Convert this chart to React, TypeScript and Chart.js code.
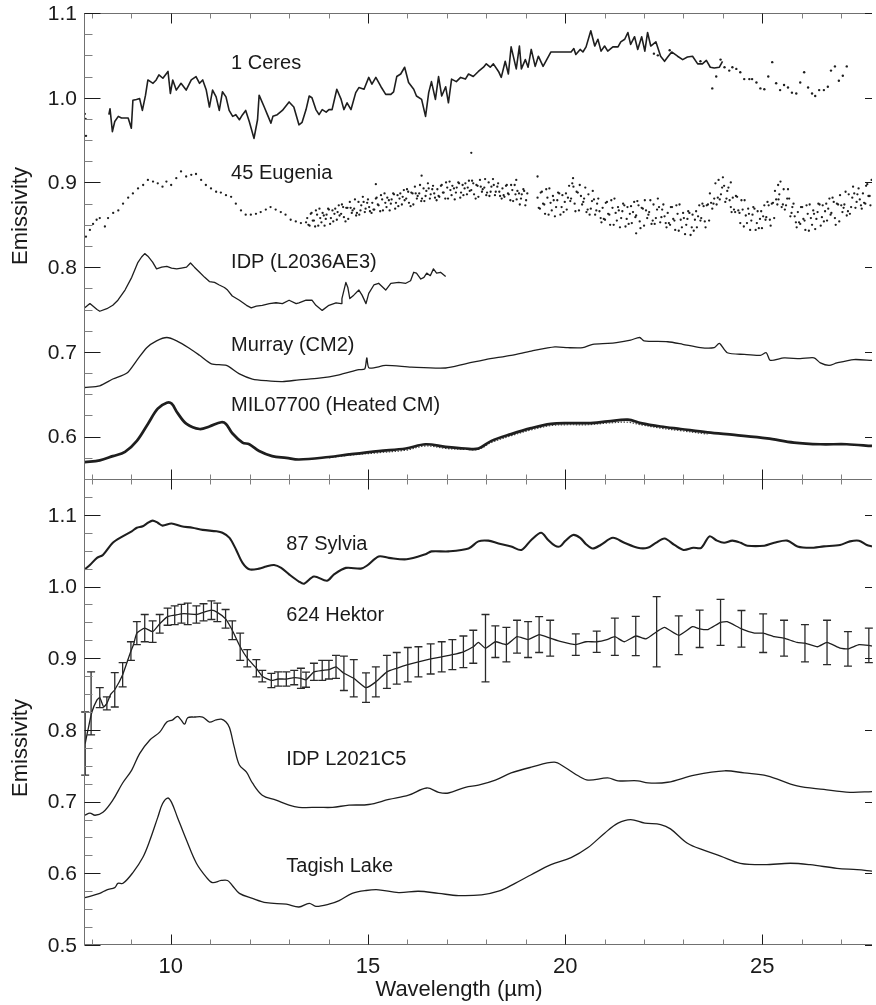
import { useEffect, useRef } from "react";
import { Chart, registerables } from "chart.js";

Chart.register(...registerables);

type P = [number, number];

// ---- axis ticks ----
const xMajorTicks = [10, 15, 20, 25];
const xMinorTicks = [8, 9, 11, 12, 13, 14, 16, 17, 18, 19, 21, 22, 23, 24, 26, 27];
const topYTicks = [0.6, 0.7, 0.8, 0.9, 1.0, 1.1];
const botYTicks = [0.5, 0.6, 0.7, 0.8, 0.9, 1.0, 1.1];

// ---- top panel ----
const ceresLine: P[] = [
  [8.43, 0.98], [8.46, 0.987], [8.52, 0.96], [8.58, 0.972], [8.67, 0.978], [8.75, 0.976], [8.92, 0.976], [9.0, 0.964],
  [9.04, 0.997], [9.13, 0.998], [9.21, 0.999], [9.28, 0.985], [9.36, 1.003], [9.42, 1.021], [9.55, 1.017], [9.63, 1.021],
  [9.7, 1.027], [9.8, 1.023], [9.93, 1.031], [9.99, 1.005], [10.05, 1.021], [10.14, 1.009], [10.26, 1.017], [10.39, 1.009],
  [10.52, 1.021], [10.64, 1.025], [10.73, 1.017], [10.81, 1.021], [10.9, 1.009], [10.98, 0.989], [11.06, 1.009], [11.15, 1.001],
  [11.23, 0.985], [11.31, 1.007], [11.4, 1.001], [11.48, 0.985], [11.57, 0.978], [11.65, 0.98], [11.74, 0.974], [11.82, 0.98],
  [11.9, 0.985], [11.99, 0.972], [12.11, 0.952], [12.2, 0.974], [12.24, 1.003], [12.37, 0.989], [12.45, 0.98], [12.54, 0.97],
  [12.59, 0.978], [12.7, 0.98], [12.83, 0.985], [13.0, 0.995], [13.12, 0.989], [13.25, 0.968], [13.33, 0.971], [13.43, 0.986],
  [13.51, 1.002], [13.58, 1.0], [13.68, 0.986], [13.76, 0.98], [13.84, 0.986], [13.94, 0.983], [14.01, 0.986], [14.09, 0.986],
  [14.21, 1.01], [14.32, 0.998], [14.39, 0.986], [14.47, 0.994], [14.57, 0.986], [14.69, 1.006], [14.77, 1.012], [14.9, 1.01],
  [15.02, 1.024], [15.1, 1.016], [15.2, 1.024], [15.33, 1.013], [15.45, 1.004], [15.58, 1.004], [15.65, 1.007], [15.73, 1.025],
  [15.83, 1.028], [15.93, 1.036], [16.03, 1.018], [16.16, 1.01], [16.23, 1.002], [16.36, 0.998], [16.46, 0.978], [16.54, 1.006],
  [16.61, 1.019], [16.71, 0.998], [16.79, 1.025], [16.87, 1.002], [16.97, 1.013], [17.04, 0.994], [17.12, 1.022], [17.24, 1.019],
  [17.35, 1.024], [17.47, 1.022], [17.55, 1.028], [17.67, 1.025], [17.8, 1.031], [17.93, 1.036], [18.0, 1.04], [18.1, 1.036],
  [18.18, 1.04], [18.31, 1.031], [18.38, 1.024], [18.48, 1.043], [18.56, 1.028], [18.63, 1.06], [18.76, 1.034], [18.84, 1.061],
  [18.89, 1.034], [18.99, 1.045], [19.06, 1.036], [19.14, 1.057], [19.24, 1.037], [19.32, 1.049], [19.44, 1.037], [19.64, 1.054],
  [20.15, 1.054], [20.22, 1.058], [20.27, 1.051], [20.38, 1.057], [20.45, 1.054], [20.53, 1.06], [20.65, 1.079], [20.75, 1.061],
  [20.83, 1.069], [20.91, 1.055], [21.0, 1.061], [21.08, 1.055], [21.21, 1.06], [21.34, 1.06], [21.41, 1.066], [21.51, 1.069],
  [21.59, 1.077], [21.66, 1.063], [21.76, 1.072], [21.84, 1.057], [21.94, 1.072], [22.02, 1.055], [22.09, 1.077], [22.17, 1.061],
  [22.3, 1.066], [22.42, 1.049], [22.52, 1.043], [22.6, 1.048], [22.7, 1.054], [22.85, 1.049], [22.98, 1.045], [23.1, 1.048],
  [23.23, 1.049], [23.36, 1.04], [23.48, 1.04], [23.58, 1.044], [23.68, 1.036], [23.78, 1.035], [23.91, 1.036], [23.99, 1.043],
];

const ceresDots: P[] = [
  [7.82, 0.981], [7.84, 0.975], [7.85, 0.955],
  [22.25, 1.052], [22.35, 1.05], [22.65, 1.056], [23.43, 1.043], [23.73, 1.011], [23.83, 1.025], [23.94, 1.045],
  [24.04, 1.036], [24.16, 1.032], [24.24, 1.036], [24.34, 1.034], [24.44, 1.03], [24.54, 1.022], [24.67, 1.022],
  [24.74, 1.022], [24.85, 1.018], [24.95, 1.011], [25.05, 1.01], [25.15, 1.025], [25.25, 1.042], [25.35, 1.017],
  [25.45, 1.009], [25.55, 1.015], [25.65, 1.012], [25.75, 1.006], [25.86, 1.005], [25.96, 1.018], [26.06, 1.03],
  [26.16, 1.012], [26.26, 1.005], [26.34, 1.002], [26.44, 1.009], [26.56, 1.009], [26.66, 1.013], [26.74, 1.032],
  [26.84, 1.037], [26.94, 1.02], [27.04, 1.026], [27.14, 1.037],
];

const eugeniaDots: P[] = [
  [7.85, 0.836], [7.95, 0.844], [8.03, 0.851], [8.12, 0.856], [8.2, 0.858], [8.33, 0.848], [8.41, 0.858], [8.54, 0.864],
  [8.67, 0.867], [8.79, 0.875], [8.92, 0.882], [9.04, 0.887], [9.17, 0.893], [9.3, 0.897], [9.42, 0.903], [9.55, 0.901],
  [9.67, 0.899], [9.79, 0.895], [9.89, 0.901], [10.01, 0.897], [10.14, 0.905], [10.26, 0.913], [10.39, 0.907], [10.52, 0.909],
  [10.64, 0.91], [10.77, 0.903], [10.89, 0.897], [11.02, 0.893], [11.15, 0.889], [11.27, 0.888], [11.4, 0.885], [11.53, 0.883],
  [11.65, 0.875], [11.78, 0.867], [11.9, 0.862], [12.03, 0.862], [12.16, 0.863], [12.28, 0.865], [12.41, 0.868], [12.53, 0.871],
  [12.66, 0.868], [12.79, 0.865], [12.91, 0.862], [13.04, 0.856], [13.17, 0.854], [13.3, 0.852], [13.43, 0.853],
  [13.46, 0.858], [13.52, 0.849], [13.57, 0.864], [13.63, 0.855], [13.68, 0.867], [13.74, 0.849], [13.79, 0.858], [13.85, 0.864],
  [13.9, 0.849], [13.95, 0.862], [14.01, 0.868], [14.06, 0.858], [14.12, 0.854], [14.17, 0.869], [14.23, 0.865], [14.28, 0.861],
  [14.34, 0.874], [14.39, 0.859], [14.45, 0.87], [14.5, 0.857], [14.56, 0.87], [14.61, 0.867], [14.67, 0.88], [14.72, 0.864],
  [14.78, 0.862], [14.83, 0.873], [14.89, 0.877], [14.94, 0.869], [15.0, 0.88], [15.05, 0.866], [15.11, 0.876], [15.16, 0.868],
  [15.22, 0.882], [15.27, 0.873], [15.33, 0.885], [15.38, 0.867], [15.44, 0.876], [15.49, 0.882], [15.55, 0.867], [15.6, 0.88],
  [15.66, 0.886], [15.71, 0.876], [15.77, 0.872], [15.82, 0.887], [15.88, 0.883], [15.93, 0.879], [15.99, 0.892], [16.04, 0.876],
  [16.1, 0.888], [16.15, 0.874], [16.21, 0.887], [16.26, 0.884], [16.32, 0.897], [16.37, 0.881], [16.43, 0.878], [16.48, 0.89],
  [16.54, 0.893], [16.59, 0.886], [16.65, 0.896], [16.7, 0.882], [16.76, 0.892], [16.81, 0.883], [16.87, 0.897], [16.92, 0.888],
  [16.98, 0.9], [17.03, 0.881], [17.09, 0.891], [17.14, 0.896], [17.2, 0.88], [17.25, 0.894], [17.31, 0.899], [17.36, 0.888],
  [17.42, 0.885], [17.47, 0.899], [17.53, 0.894], [17.58, 0.89], [17.64, 0.902], [17.69, 0.886], [17.75, 0.897], [17.8, 0.883],
  [17.86, 0.895], [17.91, 0.892], [17.97, 0.904], [18.02, 0.888], [18.08, 0.884], [18.13, 0.895], [18.19, 0.897], [18.24, 0.889],
  [18.3, 0.899], [18.35, 0.884], [18.41, 0.893], [18.46, 0.883], [18.52, 0.897], [18.57, 0.886], [18.63, 0.897], [18.68, 0.878],
  [18.74, 0.886], [18.79, 0.89], [18.85, 0.874], [18.9, 0.886], [18.96, 0.89], [19.01, 0.879],
  [19.3, 0.882], [19.36, 0.869], [19.41, 0.889], [19.47, 0.874], [19.52, 0.892], [19.58, 0.862], [19.63, 0.876], [19.69, 0.884],
  [19.74, 0.86], [19.8, 0.879], [19.85, 0.887], [19.91, 0.871], [19.96, 0.865], [20.02, 0.887], [20.07, 0.882], [20.13, 0.878],
  [20.18, 0.899], [20.24, 0.875], [20.29, 0.889], [20.35, 0.867], [20.4, 0.884], [20.46, 0.877], [20.51, 0.894], [20.57, 0.868],
  [20.62, 0.862], [20.68, 0.878], [20.73, 0.88], [20.79, 0.867], [20.84, 0.881], [20.9, 0.858], [20.95, 0.87], [21.01, 0.856],
  [21.06, 0.877], [21.12, 0.862], [21.17, 0.879], [21.23, 0.85], [21.28, 0.864], [21.34, 0.871], [21.39, 0.847], [21.45, 0.866],
  [21.5, 0.873], [21.56, 0.857], [21.61, 0.851], [21.67, 0.872], [21.72, 0.865], [21.78, 0.859], [21.83, 0.878], [21.89, 0.854],
  [21.94, 0.87], [22.0, 0.849], [22.05, 0.867], [22.11, 0.862], [22.16, 0.879], [22.22, 0.855], [22.27, 0.851], [22.33, 0.868],
  [22.38, 0.871], [22.44, 0.859], [22.49, 0.874], [22.55, 0.852], [22.6, 0.864], [22.66, 0.85], [22.71, 0.871], [22.77, 0.855],
  [22.82, 0.873], [22.88, 0.843], [22.93, 0.856], [22.99, 0.864], [23.04, 0.839], [23.1, 0.857], [23.15, 0.864], [23.21, 0.847],
  [23.26, 0.843], [23.32, 0.866], [23.37, 0.86], [23.43, 0.855], [23.48, 0.875], [23.54, 0.854], [23.59, 0.873], [23.65, 0.855],
  [23.7, 0.876], [23.76, 0.875], [23.81, 0.899], [23.87, 0.882], [23.92, 0.88], [23.98, 0.894], [24.03, 0.896], [24.09, 0.881],
  [24.14, 0.894], [24.2, 0.871], [24.25, 0.882], [24.31, 0.865], [24.36, 0.883], [24.42, 0.864], [24.47, 0.879], [24.53, 0.848],
  [24.58, 0.861], [24.64, 0.869], [24.69, 0.844], [24.75, 0.862], [24.8, 0.869], [24.86, 0.852], [24.91, 0.846], [24.97, 0.866],
  [25.02, 0.86], [25.08, 0.856], [25.13, 0.877], [25.19, 0.856], [25.24, 0.875], [25.3, 0.858], [25.35, 0.88], [25.41, 0.88],
  [25.46, 0.901], [25.52, 0.874], [25.57, 0.868], [25.63, 0.881], [25.68, 0.881], [25.74, 0.864], [25.79, 0.875], [25.85, 0.853],
  [25.9, 0.865], [25.96, 0.851], [26.01, 0.871], [26.07, 0.855], [26.12, 0.873], [26.18, 0.843], [26.23, 0.858], [26.29, 0.867],
  [26.34, 0.845], [26.4, 0.865], [26.45, 0.874], [26.51, 0.859], [26.56, 0.854], [26.62, 0.875], [26.67, 0.869], [26.73, 0.862],
  [26.78, 0.882], [26.84, 0.858], [26.89, 0.875], [26.95, 0.854], [27.0, 0.873], [27.06, 0.87], [27.11, 0.889], [27.17, 0.866],
  [27.22, 0.863], [27.28, 0.882], [27.33, 0.887], [27.39, 0.877], [27.44, 0.893], [27.5, 0.873], [27.55, 0.887], [27.61, 0.875],
  [27.66, 0.898], [27.72, 0.884], [27.77, 0.903],
  [17.62, 0.935], [16.36, 0.908], [15.2, 0.898], [18.76, 0.903], [19.3, 0.907], [20.2, 0.905], [24.2, 0.9], [21.8, 0.84], [25.4, 0.897],
];

// second overlapping Eugenia spectrum (dense part)
const eugeniaDotsB: P[] = [
  [13.49, 0.85], [13.55, 0.863], [13.6, 0.855], [13.66, 0.848], [13.71, 0.862], [13.77, 0.869], [13.82, 0.853], [13.88, 0.861],
  [13.93, 0.857], [13.99, 0.869], [14.04, 0.851], [14.1, 0.867], [14.15, 0.863], [14.21, 0.856], [14.26, 0.873], [14.32, 0.863],
  [14.37, 0.871], [14.43, 0.854], [14.48, 0.87], [14.54, 0.877], [14.59, 0.864], [14.65, 0.869], [14.7, 0.861], [14.76, 0.877],
  [14.81, 0.867], [14.87, 0.883], [14.92, 0.865], [14.98, 0.876], [15.03, 0.871], [15.09, 0.864], [15.14, 0.868], [15.2, 0.881],
  [15.25, 0.874], [15.31, 0.866], [15.36, 0.88], [15.42, 0.887], [15.47, 0.871], [15.53, 0.879], [15.58, 0.875], [15.64, 0.887],
  [15.69, 0.869], [15.75, 0.885], [15.8, 0.881], [15.86, 0.874], [15.91, 0.891], [15.97, 0.881], [16.02, 0.889], [16.08, 0.872],
  [16.13, 0.887], [16.19, 0.895], [16.24, 0.881], [16.3, 0.887], [16.35, 0.878], [16.41, 0.893], [16.46, 0.884], [16.52, 0.899],
  [16.57, 0.881], [16.63, 0.892], [16.68, 0.887], [16.74, 0.879], [16.79, 0.884], [16.85, 0.896], [16.9, 0.888], [16.96, 0.881],
  [17.01, 0.894], [17.07, 0.901], [17.12, 0.885], [17.18, 0.893], [17.23, 0.888], [17.29, 0.9], [17.34, 0.882], [17.4, 0.897],
  [17.45, 0.893], [17.51, 0.886], [17.56, 0.902], [17.62, 0.891], [17.67, 0.899], [17.73, 0.881], [17.78, 0.896], [17.84, 0.903],
  [17.89, 0.889], [17.95, 0.894], [18.0, 0.885], [18.06, 0.9], [18.11, 0.889], [18.17, 0.904], [18.22, 0.885], [18.28, 0.895],
  [18.33, 0.889], [18.39, 0.881], [18.44, 0.885], [18.5, 0.896], [18.55, 0.887], [18.61, 0.879], [18.66, 0.891], [18.72, 0.897],
  [18.77, 0.88], [18.83, 0.887], [18.88, 0.881], [18.94, 0.892], [18.99, 0.873], [19.04, 0.887],
  [19.33, 0.87], [19.38, 0.888], [19.44, 0.875], [19.49, 0.863], [19.55, 0.882], [19.6, 0.893], [19.66, 0.867], [19.71, 0.879],
  [19.77, 0.871], [19.82, 0.888], [19.88, 0.862], [19.93, 0.885], [19.99, 0.877], [20.04, 0.868], [20.1, 0.896], [20.15, 0.881],
  [20.21, 0.895], [20.26, 0.866], [20.32, 0.888], [20.37, 0.897], [20.43, 0.874], [20.48, 0.881], [20.54, 0.865], [20.59, 0.886],
  [20.65, 0.869], [20.7, 0.89], [20.76, 0.862], [20.81, 0.875], [20.87, 0.866], [20.92, 0.853], [20.98, 0.857], [21.03, 0.876],
  [21.09, 0.863], [21.14, 0.85], [21.2, 0.87], [21.25, 0.881], [21.31, 0.855], [21.36, 0.867], [21.42, 0.858], [21.47, 0.875],
  [21.53, 0.848], [21.58, 0.871], [21.64, 0.863], [21.69, 0.852], [21.75, 0.877], [21.8, 0.861], [21.86, 0.873], [21.91, 0.846],
  [21.97, 0.869], [22.02, 0.879], [22.08, 0.858], [22.13, 0.865], [22.19, 0.851], [22.24, 0.874], [22.3, 0.858], [22.35, 0.881],
  [22.41, 0.853], [22.46, 0.868], [22.52, 0.86], [22.57, 0.847], [22.63, 0.852], [22.68, 0.871], [22.74, 0.857], [22.79, 0.844],
  [22.85, 0.863], [22.9, 0.874], [22.96, 0.847], [23.01, 0.858], [23.07, 0.85], [23.12, 0.866], [23.18, 0.838], [23.23, 0.862],
  [23.29, 0.856], [23.34, 0.847], [23.4, 0.873], [23.45, 0.858], [23.51, 0.872], [23.56, 0.847], [23.62, 0.874], [23.67, 0.887],
  [23.73, 0.869], [23.78, 0.881], [23.84, 0.874], [23.89, 0.903], [23.95, 0.886], [24.0, 0.906], [24.06, 0.877], [24.11, 0.89],
  [24.17, 0.879], [24.22, 0.865], [24.28, 0.868], [24.33, 0.884], [24.39, 0.867], [24.44, 0.852], [24.5, 0.868], [24.55, 0.879],
  [24.61, 0.852], [24.66, 0.863], [24.72, 0.855], [24.77, 0.871], [24.83, 0.844], [24.88, 0.866], [24.94, 0.857], [24.99, 0.846],
  [25.05, 0.873], [25.1, 0.859], [25.16, 0.873], [25.21, 0.849], [25.27, 0.876], [25.32, 0.89], [25.38, 0.874], [25.43, 0.886],
  [25.49, 0.871], [25.54, 0.892], [25.6, 0.873], [25.65, 0.892], [25.71, 0.86], [25.76, 0.871], [25.82, 0.86], [25.87, 0.847],
  [25.93, 0.853], [25.98, 0.871], [26.04, 0.857], [26.09, 0.844], [26.15, 0.863], [26.2, 0.874], [26.26, 0.85], [26.31, 0.863],
  [26.37, 0.857], [26.42, 0.875], [26.48, 0.849], [26.53, 0.873], [26.59, 0.866], [26.64, 0.855], [26.7, 0.881], [26.75, 0.864],
  [26.81, 0.877], [26.86, 0.85], [26.92, 0.874], [26.97, 0.885], [27.03, 0.865], [27.08, 0.874], [27.14, 0.861], [27.19, 0.886],
  [27.25, 0.871], [27.3, 0.895], [27.36, 0.87], [27.41, 0.886], [27.47, 0.88], [27.52, 0.869], [27.58, 0.876], [27.63, 0.896],
  [27.69, 0.884], [27.74, 0.873],
];

const idpL2036: P[] = [
  [7.82, 0.752], [7.95, 0.757], [8.13, 0.75], [8.2, 0.748], [8.38, 0.751], [8.53, 0.755], [8.66, 0.761], [8.84, 0.773],
  [9.01, 0.788], [9.16, 0.805], [9.26, 0.812], [9.34, 0.816], [9.42, 0.813], [9.54, 0.806], [9.64, 0.798], [9.77, 0.8],
  [9.9, 0.801], [10.02, 0.799], [10.15, 0.798], [10.27, 0.799], [10.4, 0.8], [10.5, 0.805], [10.6, 0.8], [10.73, 0.794],
  [10.86, 0.788], [10.98, 0.783], [11.11, 0.782], [11.23, 0.779], [11.36, 0.776], [11.44, 0.773], [11.56, 0.766], [11.74, 0.761],
  [11.92, 0.755], [12.04, 0.752], [12.17, 0.754], [12.32, 0.755], [12.5, 0.757], [12.67, 0.758], [12.83, 0.757], [13.0, 0.761],
  [13.18, 0.757], [13.25, 0.758], [13.43, 0.761], [13.58, 0.761], [13.68, 0.755], [13.84, 0.749], [14.01, 0.755], [14.19, 0.758],
  [14.32, 0.757], [14.34, 0.763], [14.44, 0.782], [14.49, 0.776], [14.54, 0.763], [14.64, 0.767], [14.77, 0.773], [14.85, 0.767],
  [14.95, 0.757], [15.02, 0.769], [15.15, 0.779], [15.27, 0.781], [15.45, 0.773], [15.58, 0.781], [15.78, 0.782], [15.96, 0.781],
  [16.08, 0.784], [16.16, 0.794], [16.23, 0.793], [16.34, 0.786], [16.42, 0.788], [16.49, 0.793], [16.58, 0.79], [16.66, 0.798],
  [16.74, 0.793], [16.84, 0.794], [16.97, 0.789],
];

const murray: P[] = [
  [7.82, 0.658], [8.2, 0.66], [8.53, 0.668], [8.89, 0.675], [9.14, 0.69], [9.39, 0.705], [9.64, 0.713], [9.9, 0.717],
  [10.15, 0.713], [10.48, 0.704], [10.73, 0.696], [11.03, 0.686], [11.41, 0.684], [11.74, 0.674], [12.07, 0.668], [12.42, 0.666],
  [12.83, 0.665], [13.25, 0.667], [13.76, 0.669], [14.27, 0.673], [14.77, 0.679], [14.92, 0.68], [14.97, 0.693], [15.03, 0.681],
  [15.45, 0.684], [16.1, 0.682], [16.97, 0.681], [17.47, 0.686], [17.98, 0.691], [18.63, 0.696], [19.14, 0.701], [19.74, 0.706],
  [20.07, 0.705], [20.45, 0.705], [20.7, 0.709], [21.08, 0.71], [21.3, 0.711], [21.66, 0.714], [21.89, 0.717], [22.0, 0.713],
  [22.6, 0.712], [22.98, 0.709], [23.43, 0.705], [23.78, 0.705], [23.91, 0.71], [24.11, 0.699], [24.54, 0.697], [24.95, 0.696],
  [25.1, 0.699], [25.2, 0.69], [25.55, 0.693], [25.96, 0.692], [26.31, 0.693], [26.47, 0.687], [26.69, 0.684], [26.89, 0.687],
  [27.32, 0.691], [27.78, 0.69],
];

const mil07700: P[] = [
  [7.82, 0.57], [8.2, 0.572], [8.53, 0.577], [8.84, 0.582], [9.14, 0.595], [9.42, 0.615], [9.67, 0.633], [9.9, 0.64],
  [10.02, 0.639], [10.17, 0.628], [10.4, 0.615], [10.73, 0.609], [10.98, 0.612], [11.28, 0.617], [11.4, 0.615], [11.56, 0.604],
  [11.82, 0.593], [11.99, 0.591], [12.24, 0.583], [12.57, 0.577], [12.93, 0.575], [13.25, 0.573], [14.01, 0.576], [14.52, 0.579],
  [15.27, 0.583], [15.96, 0.586], [16.46, 0.591], [16.97, 0.588], [17.47, 0.586], [17.8, 0.586], [18.13, 0.595], [18.63, 0.603],
  [19.14, 0.61], [19.64, 0.615], [20.07, 0.616], [20.58, 0.616], [21.08, 0.618], [21.59, 0.62], [21.92, 0.616], [22.42, 0.612],
  [22.93, 0.609], [23.61, 0.605], [24.29, 0.602], [25.12, 0.598], [25.8, 0.593], [26.47, 0.591], [27.14, 0.591], [27.78, 0.589],
];

const mil07700Dotted: P[] = [
  [14.01, 0.575], [14.52, 0.578], [15.27, 0.581], [15.96, 0.584], [16.46, 0.589], [16.97, 0.586], [17.47, 0.585],
  [17.8, 0.585], [18.13, 0.593], [18.63, 0.601], [19.14, 0.608], [19.64, 0.613], [20.07, 0.614], [20.58, 0.614],
  [21.08, 0.616], [21.59, 0.617], [21.92, 0.614], [22.42, 0.61], [22.93, 0.607], [23.61, 0.603],
];

// ---- bottom panel ----
const sylvia: P[] = [
  [7.82, 1.024], [7.95, 1.03], [8.13, 1.04], [8.28, 1.044], [8.53, 1.061], [8.78, 1.07], [9.01, 1.077], [9.14, 1.082],
  [9.29, 1.084], [9.42, 1.089], [9.54, 1.092], [9.67, 1.089], [9.79, 1.085], [10.02, 1.088], [10.27, 1.084], [10.55, 1.082],
  [10.81, 1.079], [11.16, 1.077], [11.31, 1.075], [11.49, 1.068], [11.66, 1.051], [11.82, 1.033], [11.99, 1.024], [12.24, 1.025],
  [12.42, 1.028], [12.62, 1.03], [12.8, 1.026], [13.0, 1.017], [13.25, 1.007], [13.38, 1.004], [13.63, 1.014], [13.96, 1.008],
  [14.14, 1.017], [14.44, 1.026], [14.82, 1.025], [14.97, 1.029], [15.27, 1.042], [15.53, 1.04], [15.98, 1.038], [16.46, 1.045],
  [16.61, 1.049], [17.04, 1.049], [17.55, 1.053], [17.8, 1.063], [18.05, 1.064], [18.31, 1.06], [18.63, 1.056], [18.89, 1.051],
  [19.14, 1.065], [19.39, 1.075], [19.57, 1.065], [19.74, 1.057], [19.87, 1.056], [19.99, 1.063], [20.2, 1.072], [20.38, 1.068],
  [20.53, 1.059], [20.7, 1.053], [20.9, 1.058], [21.21, 1.068], [21.5, 1.061], [21.84, 1.054], [22.09, 1.054], [22.3, 1.061],
  [22.52, 1.067], [22.77, 1.058], [23.0, 1.051], [23.25, 1.054], [23.45, 1.054], [23.66, 1.07], [23.85, 1.064], [24.03, 1.061],
  [24.24, 1.064], [24.45, 1.061], [24.62, 1.057], [25.05, 1.057], [25.3, 1.061], [25.63, 1.064], [25.89, 1.056], [26.21, 1.054],
  [26.56, 1.056], [26.97, 1.058], [27.22, 1.063], [27.45, 1.064], [27.65, 1.058], [27.78, 1.056],
];

const hektor: P[] = [
  [7.83, 0.781], [7.9, 0.8], [8.0, 0.825], [8.13, 0.842], [8.2, 0.845], [8.3, 0.832], [8.38, 0.837], [8.48, 0.85],
  [8.58, 0.856], [8.78, 0.877], [8.99, 0.91], [9.05, 0.918], [9.14, 0.935], [9.34, 0.942], [9.54, 0.937], [9.72, 0.948],
  [9.92, 0.958], [10.1, 0.96], [10.27, 0.962], [10.43, 0.962], [10.65, 0.961], [10.83, 0.964], [11.03, 0.967], [11.18, 0.964],
  [11.39, 0.955], [11.56, 0.939], [11.76, 0.916], [11.94, 0.9], [12.17, 0.886], [12.32, 0.875], [12.55, 0.869], [12.72, 0.871],
  [12.93, 0.871], [13.13, 0.873], [13.3, 0.872], [13.43, 0.87], [13.63, 0.881], [13.84, 0.883], [14.01, 0.884], [14.19, 0.888],
  [14.39, 0.879], [14.64, 0.872], [14.95, 0.859], [15.2, 0.867], [15.48, 0.881], [15.73, 0.886], [16.01, 0.891], [16.28, 0.895],
  [16.59, 0.899], [16.87, 0.902], [17.14, 0.905], [17.42, 0.909], [17.67, 0.916], [17.8, 0.922], [17.98, 0.914], [18.23, 0.923],
  [18.51, 0.919], [18.78, 0.93], [19.06, 0.926], [19.34, 0.933], [19.62, 0.928], [19.9, 0.923], [20.27, 0.919], [20.53, 0.923],
  [20.8, 0.923], [21.06, 0.926], [21.26, 0.93], [21.5, 0.923], [21.79, 0.931], [22.05, 0.927], [22.32, 0.937], [22.52, 0.943],
  [22.88, 0.932], [23.23, 0.944], [23.41, 0.941], [23.62, 0.94], [23.94, 0.95], [24.11, 0.951], [24.47, 0.941], [24.8, 0.935],
  [25.02, 0.935], [25.3, 0.93], [25.55, 0.928], [25.88, 0.922], [26.08, 0.921], [26.4, 0.916], [26.64, 0.922], [26.97, 0.914],
  [27.17, 0.913], [27.45, 0.919], [27.7, 0.918], [27.78, 0.917],
];

// [wavelength, emissivity, half error]
const hektorErrors: [number, number, number][] = [
  [7.83, 0.781, 0.044], [7.98, 0.837, 0.044], [8.2, 0.845, 0.014], [8.38, 0.837, 0.009], [8.58, 0.856, 0.024],
  [8.78, 0.877, 0.017], [8.99, 0.91, 0.013], [9.14, 0.935, 0.016], [9.34, 0.942, 0.019], [9.54, 0.937, 0.015],
  [9.72, 0.948, 0.013], [9.92, 0.958, 0.012], [10.1, 0.96, 0.013], [10.27, 0.962, 0.013], [10.43, 0.962, 0.015],
  [10.65, 0.961, 0.012], [10.83, 0.964, 0.012], [11.03, 0.967, 0.013], [11.18, 0.964, 0.013], [11.39, 0.955, 0.013],
  [11.56, 0.939, 0.013], [11.76, 0.916, 0.019], [11.94, 0.9, 0.012], [12.17, 0.886, 0.012], [12.32, 0.875, 0.008],
  [12.55, 0.869, 0.01], [12.72, 0.871, 0.01], [12.93, 0.871, 0.01], [13.13, 0.873, 0.01], [13.3, 0.872, 0.014],
  [13.43, 0.87, 0.0105], [13.63, 0.881, 0.012], [13.84, 0.883, 0.014], [14.01, 0.884, 0.013], [14.19, 0.888, 0.016],
  [14.39, 0.879, 0.024], [14.64, 0.872, 0.026], [14.95, 0.859, 0.0205], [15.2, 0.867, 0.021], [15.48, 0.881, 0.023],
  [15.73, 0.886, 0.022], [16.01, 0.891, 0.024], [16.28, 0.895, 0.021], [16.59, 0.899, 0.021], [16.87, 0.902, 0.021],
  [17.14, 0.905, 0.021], [17.42, 0.909, 0.022], [17.67, 0.916, 0.023], [17.98, 0.914, 0.047], [18.23, 0.923, 0.022],
  [18.51, 0.919, 0.024], [18.78, 0.93, 0.023], [19.06, 0.926, 0.025], [19.34, 0.933, 0.025], [19.62, 0.928, 0.025],
  [20.27, 0.919, 0.015], [20.8, 0.923, 0.0147], [21.26, 0.93, 0.026], [21.79, 0.931, 0.0275], [22.32, 0.937, 0.049],
  [22.88, 0.932, 0.027], [23.41, 0.941, 0.026], [23.94, 0.95, 0.032], [24.47, 0.941, 0.0256], [25.02, 0.935, 0.027],
  [25.55, 0.928, 0.025], [26.08, 0.921, 0.026], [26.64, 0.922, 0.031], [27.17, 0.913, 0.024], [27.7, 0.918, 0.024],
];

const idpL2021: P[] = [
  [7.82, 0.681], [7.95, 0.684], [8.08, 0.681], [8.28, 0.685], [8.53, 0.702], [8.78, 0.726], [9.01, 0.744], [9.21, 0.767],
  [9.47, 0.786], [9.72, 0.797], [9.9, 0.811], [10.05, 0.814], [10.17, 0.819], [10.26, 0.814], [10.35, 0.808], [10.43, 0.817],
  [10.6, 0.818], [10.81, 0.818], [10.98, 0.811], [11.15, 0.814], [11.28, 0.815], [11.4, 0.811], [11.49, 0.803], [11.61, 0.776],
  [11.74, 0.751], [11.92, 0.741], [12.07, 0.726], [12.32, 0.709], [12.67, 0.702], [13.0, 0.695], [13.25, 0.692], [13.76, 0.692],
  [14.1, 0.692], [14.52, 0.695], [15.02, 0.696], [15.53, 0.703], [16.03, 0.709], [16.49, 0.719], [16.79, 0.713], [17.04, 0.712],
  [17.47, 0.72], [17.8, 0.723], [18.23, 0.73], [18.63, 0.74], [19.14, 0.748], [19.72, 0.755], [19.99, 0.748], [20.33, 0.736],
  [20.58, 0.73], [21.08, 0.733], [21.34, 0.729], [21.84, 0.729], [22.1, 0.726], [22.6, 0.727], [23.28, 0.737], [24.04, 0.743],
  [24.54, 0.74], [25.12, 0.736], [25.88, 0.722], [26.56, 0.717], [27.22, 0.713], [27.78, 0.714],
];

const tagishLake: P[] = [
  [7.82, 0.566], [8.2, 0.572], [8.38, 0.577], [8.58, 0.58], [8.66, 0.586], [8.79, 0.586], [9.04, 0.601], [9.29, 0.622],
  [9.47, 0.646], [9.67, 0.678], [9.79, 0.697], [9.92, 0.705], [10.02, 0.699], [10.17, 0.678], [10.4, 0.646], [10.65, 0.614],
  [10.91, 0.594], [11.06, 0.587], [11.28, 0.59], [11.44, 0.59], [11.56, 0.583], [11.74, 0.572], [12.07, 0.565], [12.42, 0.559],
  [12.93, 0.557], [13.25, 0.553], [13.51, 0.558], [13.68, 0.554], [14.01, 0.557], [14.27, 0.562], [14.6, 0.572], [14.95, 0.576],
  [15.27, 0.577], [15.78, 0.573], [16.28, 0.575], [16.79, 0.572], [17.3, 0.569], [17.88, 0.57], [18.31, 0.575], [18.73, 0.586],
  [19.14, 0.598], [19.64, 0.612], [20.15, 0.622], [20.58, 0.636], [21.0, 0.656], [21.34, 0.67], [21.66, 0.675], [22.02, 0.67],
  [22.42, 0.668], [22.67, 0.662], [23.1, 0.642], [23.53, 0.632], [23.94, 0.624], [24.44, 0.614], [25.05, 0.612], [25.71, 0.614],
  [26.21, 0.612], [26.89, 0.607], [27.4, 0.605], [27.78, 0.603],
];

// ---- curve labels: [text, wavelength, emissivity, axis] ----
const curveLabels: [string, number, number, string][] = [
  ["1 Ceres", 11.53, 1.041, "yTop"],
  ["45 Eugenia", 11.53, 0.91, "yTop"],
  ["IDP (L2036AE3)", 11.53, 0.806, "yTop"],
  ["Murray (CM2)", 11.53, 0.708, "yTop"],
  ["MIL07700 (Heated CM)", 11.53, 0.637, "yTop"],
  ["87 Sylvia", 12.93, 1.058, "yBot"],
  ["624 Hektor", 12.93, 0.96, "yBot"],
  ["IDP L2021C5", 12.93, 0.759, "yBot"],
  ["Tagish Lake", 12.93, 0.609, "yBot"],
];

const INK = "#1e1e1e";
const FONT = "'Liberation Sans', Arial, sans-serif";

const toXY = (d: P[]) => d.map(([x, y]) => ({ x, y }));

function lineDs(d: P[], axis: string, width: number, tension: number, extra: any = {}) {
  return {
    data: toXY(d),
    yAxisID: axis,
    showLine: true,
    borderColor: INK,
    borderWidth: width,
    pointRadius: 0,
    tension,
    borderJoinStyle: "round",
    ...extra,
  };
}

function dotDs(d: P[], axis: string, r: number) {
  return {
    data: toXY(d),
    yAxisID: axis,
    showLine: false,
    pointRadius: r,
    pointBackgroundColor: INK,
    pointBorderWidth: 0,
    borderColor: INK,
  };
}

const errorBarPlugin = {
  id: "errorBars",
  afterDatasetsDraw(chart: any) {
    const ctx = chart.ctx;
    const xs = chart.scales.x;
    const ys = chart.scales.yBot;
    ctx.save();
    ctx.strokeStyle = "#2a2a2a";
    ctx.lineWidth = 1.3;
    ctx.beginPath();
    for (const [w, v, e] of hektorErrors) {
      const px = xs.getPixelForValue(w);
      const y1 = ys.getPixelForValue(v + e);
      const y2 = ys.getPixelForValue(v - e);
      ctx.moveTo(px, y1);
      ctx.lineTo(px, y2);
      ctx.moveTo(px - 4, y1);
      ctx.lineTo(px + 4, y1);
      ctx.moveTo(px - 4, y2);
      ctx.lineTo(px + 4, y2);
    }
    ctx.stroke();
    ctx.restore();
  },
};

const framePlugin = {
  id: "frame",
  afterDraw(chart: any) {
    const ctx = chart.ctx;
    const { left, right, top, bottom } = chart.chartArea;
    const xs = chart.scales.x;
    const yT = chart.scales.yTop;
    const yB = chart.scales.yBot;
    const mid = Math.round(yT.getPixelForValue(0.55)) + 0.5;
    const L = Math.round(left) + 0.5;
    const T = Math.round(top) + 0.5;
    const B = Math.round(bottom) - 0.5;
    ctx.save();
    ctx.strokeStyle = "#707070";
    ctx.lineWidth = 1;
    ctx.beginPath();
    ctx.moveTo(L, top);
    ctx.lineTo(L, bottom);
    ctx.moveTo(left, T);
    ctx.lineTo(right, T);
    ctx.moveTo(left, mid);
    ctx.lineTo(right, mid);
    ctx.moveTo(left, B);
    ctx.lineTo(right, B);
    ctx.stroke();

    const tick = (x1: number, y1: number, x2: number, y2: number, major: boolean) => {
      ctx.strokeStyle = major ? "#1a1a1a" : "#808080";
      ctx.beginPath();
      ctx.moveTo(x1, y1);
      ctx.lineTo(x2, y2);
      ctx.stroke();
    };

    for (const v of xMajorTicks) {
      const px = Math.round(xs.getPixelForValue(v)) + 0.5;
      tick(px, T, px, T + 10, true);
      tick(px, mid - 10, px, mid + 10, true);
      tick(px, B, px, B - 10, true);
    }
    for (const v of xMinorTicks) {
      const px = Math.round(xs.getPixelForValue(v)) + 0.5;
      tick(px, T, px, T + 5, false);
      tick(px, mid - 5, px, mid + 5, false);
      tick(px, B, px, B - 5, false);
    }

    const yTicks = (scale: any, lo: number, hi: number, majors: number[]) => {
      for (let i = 0; lo + i * 0.025 <= hi + 1e-9; i++) {
        const v = lo + i * 0.025;
        const isMajor = majors.some((m) => Math.abs(m - v) < 1e-6);
        const py = Math.round(scale.getPixelForValue(v)) + 0.5;
        if (isMajor) {
          tick(L, py, L + 16, py, true);
          tick(right, py, right - 7, py, true);
        } else {
          tick(L, py, L + 8, py, false);
        }
      }
    };
    yTicks(yT, 0.575, 1.1, topYTicks);
    yTicks(yB, 0.5, 1.15, botYTicks);

    ctx.fillStyle = "#1a1a1a";
    ctx.font = `21px ${FONT}`;
    ctx.textAlign = "right";
    ctx.textBaseline = "middle";
    for (const v of topYTicks) ctx.fillText(v.toFixed(1), left - 7, yT.getPixelForValue(v) + 1);
    for (const v of botYTicks) ctx.fillText(v.toFixed(1), left - 7, yB.getPixelForValue(v) + 1);
    ctx.textAlign = "center";
    ctx.textBaseline = "top";
    ctx.font = `22px ${FONT}`;
    for (const v of xMajorTicks) ctx.fillText(String(v), xs.getPixelForValue(v), bottom + 11);

    ctx.fillText("Wavelength (\u00b5m)", (left + right) / 2 - 19, bottom + 34);
    ctx.textBaseline = "middle";
    for (const cy of [216, 748]) {
      ctx.save();
      ctx.translate(21, cy);
      ctx.rotate(-Math.PI / 2);
      ctx.fillText("Emissivity", 0, 0);
      ctx.restore();
    }

    ctx.font = `20px ${FONT}`;
    ctx.textAlign = "left";
    ctx.textBaseline = "middle";
    for (const [text, w, v, axis] of curveLabels) {
      const sc = axis === "yTop" ? yT : yB;
      ctx.fillText(text, xs.getPixelForValue(w), sc.getPixelForValue(v));
    }
    ctx.restore();
  },
};

export default function App() {
  const ref = useRef<HTMLCanvasElement | null>(null);

  useEffect(() => {
    document.body.style.margin = "0";
    const canvas = ref.current;
    if (!canvas) return;
    const chart = new Chart(canvas, {
      type: "scatter",
      data: {
        datasets: [
          lineDs(ceresLine, "yTop", 1.6, 0),
          dotDs(ceresDots, "yTop", 1.2),
          dotDs(eugeniaDots, "yTop", 1.15),
          dotDs(eugeniaDotsB, "yTop", 1.15),
          lineDs(idpL2036, "yTop", 1.3, 0),
          lineDs(murray, "yTop", 1.3, 0.25),
          lineDs(mil07700, "yTop", 2.7, 0.35),
          lineDs(mil07700Dotted, "yTop", 1.2, 0.35, { borderDash: [1.5, 1.5], borderColor: "#444" }),
          lineDs(sylvia, "yBot", 2.1, 0.3),
          lineDs(hektor, "yBot", 1.3, 0.15),
          lineDs(idpL2021, "yBot", 1.3, 0.35),
          lineDs(tagishLake, "yBot", 1.3, 0.35),
        ] as any,
      },
      options: {
        animation: false,
        responsive: false,
        devicePixelRatio: 1,
        layout: { padding: { left: 84, top: 13, right: 0, bottom: 60 } },
        plugins: { legend: { display: false }, tooltip: { enabled: false } },
        scales: {
          x: { type: "linear", min: 7.8, max: 27.78, display: false },
          yTop: { type: "linear", min: 0, max: 1.1, display: false },
          yBot: { type: "linear", min: 0.5, max: 1.8, display: false },
        },
      },
      plugins: [errorBarPlugin, framePlugin],
    });
    return () => chart.destroy();
  }, []);

  return <canvas ref={ref} width={876} height={1005} style={{ display: "block" }} />;
}
